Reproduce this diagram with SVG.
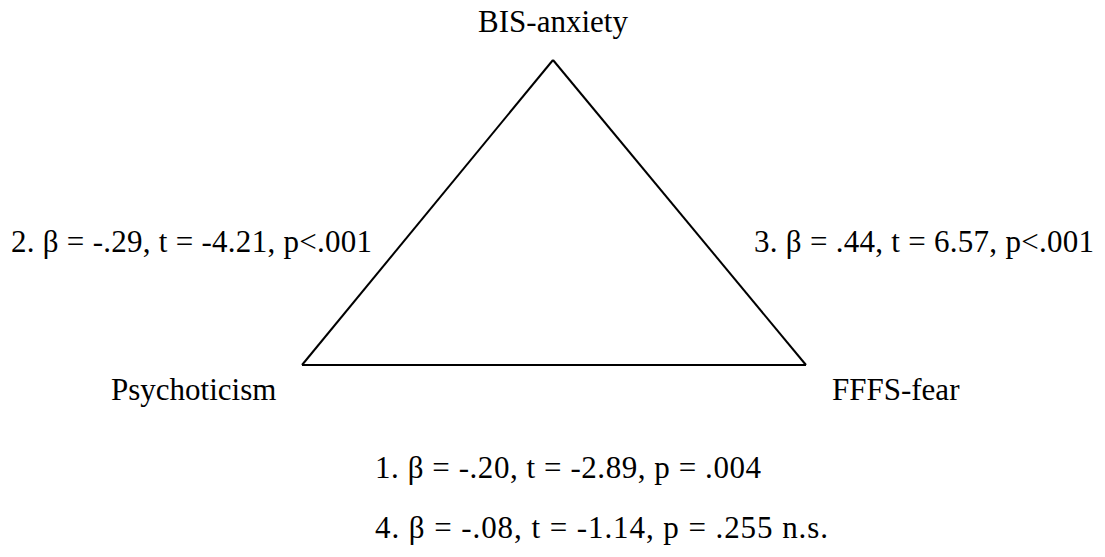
<svg xmlns="http://www.w3.org/2000/svg" width="1105" height="557" viewBox="0 0 1105 557">
<style>
text{font-family:"Liberation Serif","Times New Roman",serif;font-size:31px;fill:#000}
.edge{fill:none;stroke:#000;stroke-width:2;stroke-linejoin:miter}
</style>
<rect width="1105" height="557" fill="#fff"/>
<g id="connectors">
<line class="edge" x1="553" y1="60" x2="302" y2="365"/>
<line class="edge" x1="553" y1="60" x2="806" y2="365"/>
<line class="edge" x1="302" y1="365" x2="806" y2="365"/>
</g>
<g id="node-bis"><text x="553" y="32" text-anchor="middle">BIS-anxiety</text></g>
<g id="node-psychoticism"><text x="111" y="400">Psychoticism</text></g>
<g id="node-fffs"><text x="832" y="400">FFFS-fear</text></g>
<g id="label-2"><text x="11" y="252" textLength="361">2. β = -.29, t = -4.21, p&lt;.001</text></g>
<g id="label-3"><text x="754" y="252" textLength="340">3. β = .44, t = 6.57, p&lt;.001</text></g>
<g id="label-1"><text x="375" y="478" textLength="386">1. β = -.20, t = -2.89, p = .004</text></g>
<g id="label-4"><text x="375" y="538" textLength="453">4. β = -.08, t = -1.14, p = .255 n.s.</text></g>
</svg>
